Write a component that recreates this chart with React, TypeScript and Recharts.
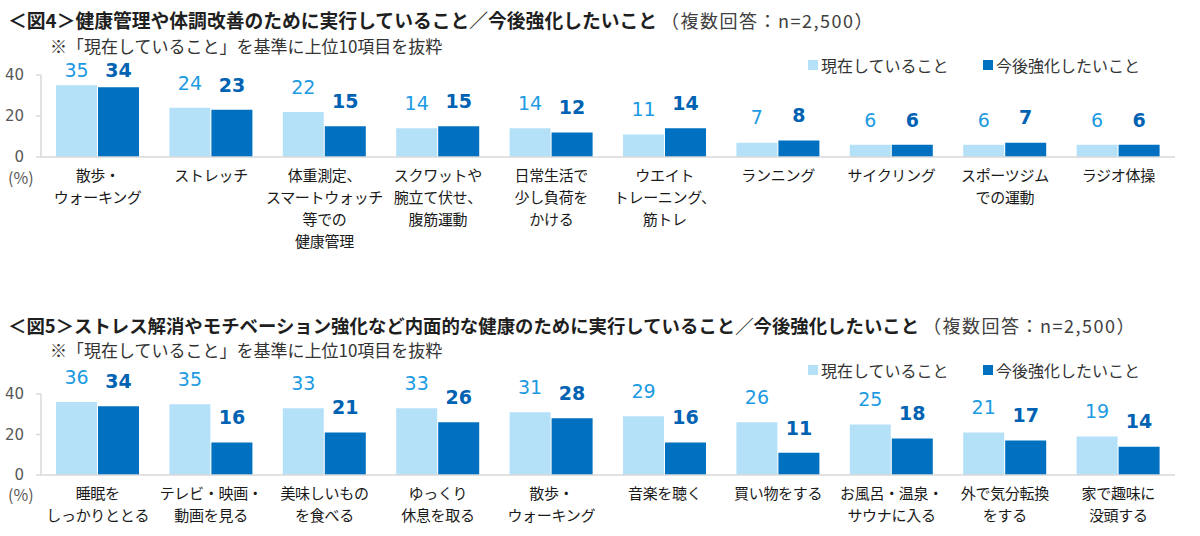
import { Bar, BarChart, LabelList, XAxis, YAxis } from "recharts";

// 図4
const categories4 = [
  "散歩・\nウォーキング",
  "ストレッチ",
  "体重測定、\nスマートウォッチ\n等での\n健康管理",
  "スクワットや\n腕立て伏せ、\n腹筋運動",
  "日常生活で\n少し負荷を\nかける",
  "ウエイト\nトレーニング、\n筋トレ",
  "ランニング",
  "サイクリング",
  "スポーツジム\nでの運動",
  "ラジオ体操",
];
const current4 = [35, 24, 22, 14, 14, 11, 7, 6, 6, 6];
const future4 = [34, 23, 15, 15, 12, 14, 8, 6, 7, 6];

// 図5
const categories5 = [
  "睡眠を\nしっかりととる",
  "テレビ・映画・\n動画を見る",
  "美味しいもの\nを食べる",
  "ゆっくり\n休息を取る",
  "散歩・\nウォーキング",
  "音楽を聴く",
  "買い物をする",
  "お風呂・温泉・\nサウナに入る",
  "外で気分転換\nをする",
  "家で趣味に\n没頭する",
];
const current5 = [36, 35, 33, 33, 31, 29, 26, 25, 21, 19];
const future5 = [34, 16, 21, 26, 28, 16, 11, 18, 17, 14];

const yTicks = [0, 20, 40];
const seriesNames = ["現在していること", "今後強化したいこと"];

const LIGHT = "#b5e1f8";
const DARK = "#0070c0";
const LIGHT_TEXT = "#1c9ae2";
const DARK_TEXT = "#0062b2";
const AXIS = "#d9d9d9";
const FONT_JP = '"Noto Sans CJK JP", "Noto Sans", sans-serif';
const FONT_NUM = '"DejaVu Sans", Verdana, sans-serif';

const buildRows = (cats: string[], cur: number[], fut: number[]) =>
  cats.map((name, i) => ({ name, current: cur[i], future: fut[i] }));

function CategoryTick(props: any) {
  const { x, y, payload } = props;
  const lines = String(payload.value).split("\n");
  return (
    <text
      x={x}
      y={y}
      textAnchor="middle"
      fontSize={15}
      letterSpacing={-0.3}
      fill="#1a1a1a"
      fontFamily={FONT_JP}
    >
      {lines.map((line, i) => (
        <tspan key={i} x={x} y={y + 24 + i * 22}>
          {line}
        </tspan>
      ))}
    </text>
  );
}

// value label sits ~25px above the bar top, clamped below the legend
const makeValueLabel =
  (color: string, bold: boolean, minY: number) => (props: any) => {
    const { x, y, width, value } = props;
    const cy = Math.max(Number(y) - 25, minY);
    return (
      <text
        x={Number(x) + Number(width) / 2}
        y={cy}
        dy="0.36em"
        textAnchor="middle"
        fill={color}
        fontSize={19}
        fontWeight={bold ? 700 : 400}
        fontFamily={FONT_NUM}
      >
        {value}
      </text>
    );
  };

interface PairProps {
  top: number;
  height: number;
  plotTop: number;
  plotBottom: number;
  rows: { name: string; current: number; future: number }[];
  minLabelY: number;
}

function PairChart({ top, height, plotTop, plotBottom, rows, minLabelY }: PairProps) {
  return (
    <div style={{ position: "absolute", left: 0, top, width: 1200, height }}>
      <BarChart
        width={1200}
        height={height}
        data={rows}
        margin={{ top: plotTop, right: 25, bottom: 0, left: 0 }}
        barCategoryGap={15}
        barGap={1}
      >
        <XAxis
          dataKey="name"
          interval={0}
          height={height - plotBottom}
          tickSize={0}
          tickMargin={0}
          tickLine={false}
          axisLine={{ stroke: AXIS, strokeWidth: 1.5 }}
          tick={<CategoryTick />}
        />
        <YAxis
          width={41}
          domain={[0, 40]}
          ticks={yTicks}
          interval={0}
          tickSize={5}
          tickMargin={12}
          axisLine={{ stroke: AXIS, strokeWidth: 1.5 }}
          tickLine={{ stroke: AXIS, strokeWidth: 1.5 }}
          tick={{ fontSize: 15, fill: "#595959", fontFamily: FONT_NUM }}
        />
        <Bar dataKey="current" fill={LIGHT} isAnimationActive={false}>
          <LabelList
            dataKey="current"
            content={makeValueLabel(LIGHT_TEXT, false, minLabelY)}
          />
        </Bar>
        <Bar dataKey="future" fill={DARK} isAnimationActive={false}>
          <LabelList
            dataKey="future"
            content={makeValueLabel(DARK_TEXT, true, minLabelY)}
          />
        </Bar>
      </BarChart>
    </div>
  );
}

function Title({ top, text, size }: { top: number; text: string; size: number }) {
  return (
    <div
      style={{
        position: "absolute",
        left: 8,
        top,
        lineHeight: "26px",
        whiteSpace: "nowrap",
        fontFamily: FONT_JP,
        color: "#1f1f1f",
      }}
    >
      <span style={{ fontSize: size, fontWeight: 700 }}>{text}</span>
      <span
        style={{ fontSize: 18, color: "#404040", marginLeft: 4, letterSpacing: 1.5 }}
      >
        （複数回答：n=2,500）
      </span>
    </div>
  );
}

function Note({ top }: { top: number }) {
  return (
    <div
      style={{
        position: "absolute",
        left: 50,
        top,
        fontSize: 17,
        lineHeight: "22px",
        fontFamily: FONT_JP,
        color: "#333",
        whiteSpace: "nowrap",
      }}
    >
      ※「現在していること」を基準に上位10項目を抜粋
    </div>
  );
}

function LegendBox({ top }: { top: number }) {
  const colors = [LIGHT, DARK];
  const lefts = [808, 983];
  return (
    <>
      {seriesNames.map((name, i) => (
        <div
          key={name}
          style={{
            position: "absolute",
            left: lefts[i],
            top,
            display: "flex",
            alignItems: "center",
            fontSize: 16,
            lineHeight: "22px",
            fontFamily: FONT_JP,
            color: "#333",
            whiteSpace: "nowrap",
          }}
        >
          <span
            style={{
              width: 10,
              height: 10,
              background: colors[i],
              marginRight: 3,
              display: "inline-block",
            }}
          />
          {name}
        </div>
      ))}
    </>
  );
}

function Unit({ top }: { top: number }) {
  return (
    <div
      style={{
        position: "absolute",
        left: 8,
        top,
        fontSize: 16,
        lineHeight: "22px",
        fontFamily: FONT_JP,
        color: "#595959",
      }}
    >
      (%)
    </div>
  );
}

export default function App() {
  const rows4 = buildRows(categories4, current4, future4);
  const rows5 = buildRows(categories5, current5, future5);

  return (
    <div
      style={{
        position: "absolute",
        left: 0,
        top: 0,
        width: 1200,
        height: 536,
        background: "#fff",
        overflow: "hidden",
      }}
    >
      <PairChart top={0} height={260} plotTop={75} plotBottom={157} rows={rows4} minLabelY={70} />
      <PairChart top={300} height={236} plotTop={94} plotBottom={175} rows={rows5} minLabelY={-100} />

      <Title
        top={7}
        size={18.8}
        text="＜図4＞健康管理や体調改善のために実行していること／今後強化したいこと"
      />
      <Note top={35} />
      <LegendBox top={54} />
      <Unit top={166} />

      <Title
        top={312}
        size={18.4}
        text="＜図5＞ストレス解消やモチベーション強化など内面的な健康のために実行していること／今後強化したいこと"
      />
      <Note top={339} />
      <LegendBox top={359} />
      <Unit top={483} />
    </div>
  );
}
